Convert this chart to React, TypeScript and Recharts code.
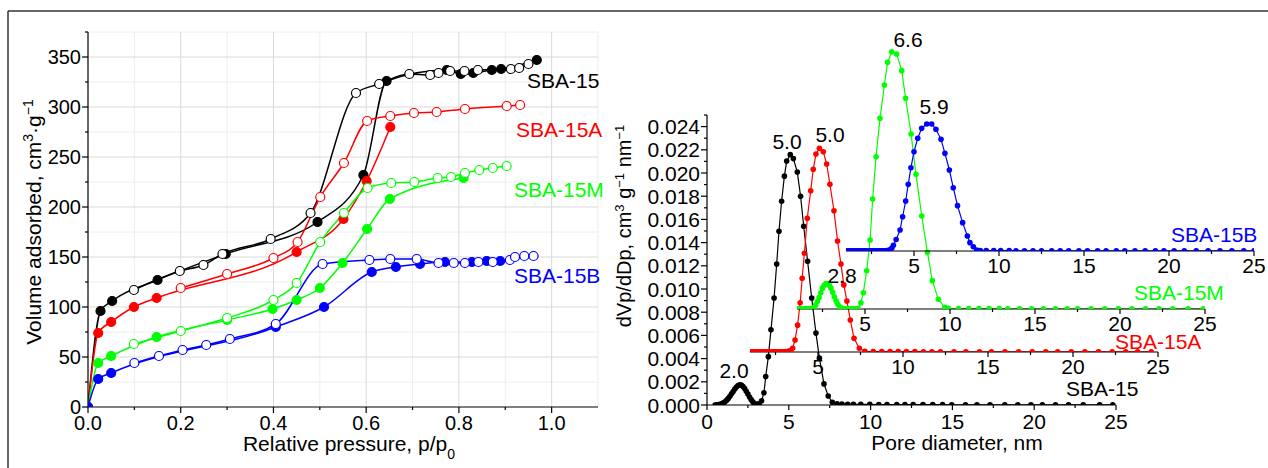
import React from 'react';
import { LineChart, Line, XAxis, YAxis, CartesianGrid } from 'recharts';

const FONT = '"Liberation Sans", Arial, Helvetica, sans-serif';

// ================= Left panel: N2 isotherms =================
const isoXTicks = [0, 0.1, 0.2, 0.3, 0.4, 0.5, 0.6, 0.7, 0.8, 0.9, 1.0];
const isoXMajor = [0, 0.2, 0.4, 0.6, 0.8, 1.0];
const isoYTicks = [0, 25, 50, 75, 100, 125, 150, 175, 200, 225, 250, 275, 300, 325, 350, 375];
const isoYMajor = [0, 50, 100, 150, 200, 250, 300, 350];
const gridMajorX = [0.2, 0.4, 0.6, 0.8, 1.0];
const gridMinorX = [0.1, 0.3, 0.5, 0.7, 0.9, 1.1];
const gridMajorY = [50, 100, 150, 200, 250, 300, 350];
const gridMinorY = [25, 75, 125, 175, 225, 275, 325, 375];

const sba15Ads: [number, number][] = [
  [0, 0], [0.027, 96], [0.052, 106], [0.15, 127], [0.297, 153], [0.495, 185], [0.594, 232],
  [0.644, 326], [0.774, 337], [0.804, 333], [0.831, 334], [0.871, 337], [0.891, 338], [0.968, 347],
];
const sba15Des: [number, number][] = [
  [0.099, 117], [0.198, 136], [0.249, 142], [0.29, 153], [0.394, 168], [0.48, 194], [0.578, 314],
  [0.628, 323], [0.693, 333], [0.738, 332], [0.756, 334], [0.781, 336], [0.812, 336], [0.841, 337],
  [0.912, 338], [0.93, 339], [0.95, 343],
];
const sba15aAds: [number, number][] = [
  [0, 0], [0.022, 74], [0.05, 85], [0.099, 100], [0.148, 109], [0.45, 155], [0.551, 188], [0.601, 226], [0.652, 280],
];
const sba15aDes: [number, number][] = [
  [0.2, 119], [0.3, 133], [0.4, 149], [0.452, 165], [0.501, 210], [0.552, 244], [0.602, 286], [0.652, 291],
  [0.703, 294], [0.752, 295], [0.813, 298], [0.903, 301], [0.932, 302],
];
const sba15mAds: [number, number][] = [
  [0, 0], [0.022, 44], [0.05, 51], [0.148, 70], [0.3, 87], [0.398, 98], [0.45, 107], [0.5, 119],
  [0.549, 144], [0.602, 178], [0.651, 208], [0.81, 229],
];
const sba15mDes: [number, number][] = [
  [0.099, 63], [0.2, 76], [0.3, 89], [0.4, 107], [0.45, 124], [0.501, 165], [0.552, 194], [0.603, 219],
  [0.654, 224], [0.704, 225], [0.754, 229], [0.783, 230], [0.813, 234], [0.844, 237], [0.873, 239], [0.903, 241],
];
const sba15bAds: [number, number][] = [
  [0, 0], [0.022, 28], [0.05, 34], [0.405, 80], [0.509, 100], [0.612, 135], [0.664, 140], [0.716, 143],
  [0.77, 145], [0.828, 145], [0.86, 146], [0.889, 146],
];
const sba15bDes: [number, number][] = [
  [0.1, 44], [0.153, 51], [0.204, 57], [0.255, 62], [0.306, 68], [0.405, 83], [0.506, 143], [0.607, 147],
  [0.652, 148], [0.709, 148], [0.756, 144], [0.789, 144], [0.813, 144], [0.842, 145], [0.873, 145],
  [0.91, 147], [0.921, 150], [0.941, 151], [0.961, 151],
];

const sampleNames = ['SBA-15', 'SBA-15A', 'SBA-15M', 'SBA-15B'];

// ================= Right panel: pore size distributions =================
const psdXTicksMain = [0, 2.5, 5, 7.5, 10, 12.5, 15, 17.5, 20, 22.5, 25];
const psdXTicksOffset = [2.5, 5, 7.5, 10, 12.5, 15, 17.5, 20, 22.5, 25];
const psdXMajor = [0, 5, 10, 15, 20, 25];
const psdYTicks = [
  0, 0.001, 0.002, 0.003, 0.004, 0.005, 0.006, 0.007, 0.008, 0.009, 0.01, 0.011, 0.012, 0.013,
  0.014, 0.015, 0.016, 0.017, 0.018, 0.019, 0.02, 0.021, 0.022, 0.023, 0.024, 0.025,
];
const psdYMajor = [0, 0.002, 0.004, 0.006, 0.008, 0.01, 0.012, 0.014, 0.016, 0.018, 0.02, 0.022, 0.024];

const psdSba15: [number, number][] = [
  [0.5, 0.0], [0.6, 0.00001], [0.7, 0.00003], [0.8, 0.00006], [0.9, 0.00011], [1.0, 0.00018], [1.1, 0.00028],
  [1.2, 0.00041], [1.3, 0.00057], [1.4, 0.00076], [1.5, 0.00096], [1.6, 0.00117], [1.7, 0.00137], [1.8, 0.00155],
  [1.9, 0.00168], [2.0, 0.00174], [2.1, 0.00171], [2.2, 0.0016], [2.3, 0.00142], [2.4, 0.00119], [2.5, 0.00094],
  [2.6, 0.00069], [2.7, 0.00046], [2.8, 0.00027], [2.9, 0.00013], [3.0, 0.00006], [3.1, 0.00005], [3.2, 0.00012],
  [3.34, 0.00037], [3.48, 0.00106], [3.59, 0.00245], [3.75, 0.00417], [3.91, 0.00648], [4.1, 0.00922],
  [4.26, 0.01216], [4.4, 0.01498], [4.56, 0.01757], [4.73, 0.01973], [4.87, 0.02103], [5.09, 0.02158],
  [5.28, 0.02124], [5.52, 0.02008], [5.72, 0.018], [5.91, 0.01541], [6.15, 0.01239], [6.4, 0.00922],
  [6.66, 0.0062], [6.87, 0.00404], [7.15, 0.00182], [7.41, 0.00078], [7.66, 0.00023],
  [7.95, 0.0001], [8.25, 0.00008], [8.6, 0.00007], [8.95, 0.00006], [9.4, 0.00005], [9.95, 0.00005],
  [10.5, 0.00004], [11.0, 0.00004], [11.6, 0.00004], [12.1, 0.00003], [12.6, 0.00003], [13.2, 0.00003],
  [13.8, 0.00003], [14.4, 0.00003], [14.96, 0.00002], [15.8, 0.00002], [16.5, 0.00002], [17.3, 0.00002],
  [18.2, 0.00002], [19.0, 0.00001], [19.8, 0.00001], [20.5, 0.00001], [21.3, 0.00001], [22.1, 0.00001],
  [23.0, 0.00001], [24.0, 0.00001], [24.8, 0.00001],
];
const psdSba15a: [number, number][] = [
  [1.1, 0.00002], [1.2, 0.00002], [1.3, 0.00002], [1.4, 0.00002], [1.5, 0.00002], [1.6, 0.00002], [1.7, 0.00002],
  [1.8, 0.00002], [1.9, 0.00002], [2.0, 0.00002], [2.1, 0.00002], [2.2, 0.00002], [2.3, 0.00002], [2.4, 0.00002],
  [2.5, 0.00002], [2.6, 0.00002], [2.7, 0.00002], [2.8, 0.00002], [2.9, 0.00002], [3.0, 0.00002], [3.1, 0.00003],
  [3.2, 0.00004], [3.3, 0.00008], [3.4, 0.00015],
  [3.51, 0.00032], [3.65, 0.00104], [3.8, 0.00232], [3.95, 0.00426], [4.07, 0.00637], [4.2, 0.00853],
  [4.37, 0.01156], [4.57, 0.01394], [4.72, 0.01579], [4.88, 0.01711], [5.08, 0.0176], [5.31, 0.01731],
  [5.51, 0.01625], [5.7, 0.01449], [5.94, 0.01221], [6.15, 0.0096], [6.35, 0.0076], [6.52, 0.0058],
  [6.7, 0.0044], [6.9, 0.00277], [7.12, 0.00118], [7.43, 0.00032], [7.76, 0.00006],
  [8.25, 0.00004], [8.75, 0.00004], [9.24, 0.00003], [9.72, 0.00003], [10.2, 0.00003], [10.7, 0.00003],
  [11.2, 0.00002], [11.7, 0.00002], [12.2, 0.00002], [13.0, 0.00002], [13.7, 0.00002], [14.5, 0.00002],
  [15.2, 0.00001], [16.0, 0.00001], [16.8, 0.00001], [17.6, 0.00001], [18.4, 0.00001], [19.1, 0.00001],
  [19.9, 0.00001], [20.7, 0.00001], [21.5, 0.00001], [22.3, 0.00001], [23.1, 0.00001], [23.8, 0.00001],
  [24.6, 0.00001],
];
const psdSba15m: [number, number][] = [
  [1.0, 0.00001], [1.1, 0.00001], [1.2, 0.00001], [1.3, 0.00001], [1.4, 0.00001], [1.5, 0.00001], [1.6, 0.00001],
  [1.7, 0.00001], [1.8, 0.00002], [1.9, 0.00005], [2.0, 0.00015], [2.1, 0.00035], [2.2, 0.00065], [2.3, 0.001],
  [2.4, 0.0014], [2.5, 0.0018], [2.6, 0.00205], [2.7, 0.0022], [2.8, 0.0022], [2.9, 0.00205], [3.0, 0.0018],
  [3.1, 0.00145], [3.2, 0.00105], [3.3, 0.0007], [3.4, 0.0004], [3.5, 0.0002], [3.6, 0.00008], [3.7, 0.00003],
  [3.8, 0.00001], [3.9, 0.00001], [4.0, 0.00001], [4.1, 0.00001], [4.2, 0.00001], [4.3, 0.00001], [4.4, 0.00001],
  [4.5, 0.00002], [4.6, 0.00003],
  [4.76, 0.00054], [4.9, 0.00141], [5.1, 0.00331], [5.3, 0.00596], [5.45, 0.00951], [5.65, 0.01316],
  [5.88, 0.01648], [6.14, 0.01936], [6.33, 0.02132], [6.57, 0.02224], [6.86, 0.02204], [7.16, 0.0206],
  [7.39, 0.01821], [7.71, 0.01513], [8.0, 0.01164], [8.34, 0.00804], [8.67, 0.0049], [8.96, 0.00245],
  [9.31, 0.00084], [9.7, 0.00015],
  [9.9, 0.00005], [10.5, 0.00004], [11.1, 0.00004], [11.7, 0.00003], [12.3, 0.00003], [12.9, 0.00003],
  [13.4, 0.00002], [14.1, 0.00002], [14.8, 0.00002], [15.5, 0.00002], [16.2, 0.00001], [16.9, 0.00001],
  [17.5, 0.00001], [18.3, 0.00001], [19.1, 0.00001], [19.9, 0.00001], [20.7, 0.00001], [21.5, 0.00001],
  [22.3, 0.00001], [23.1, 0.00001], [24.0, 0.00001], [24.9, 0.00001],
];
const psdSba15b: [number, number][] = [
  [1.0, 0.00001], [1.1, 0.00001], [1.2, 0.00001], [1.3, 0.00001], [1.4, 0.00001], [1.5, 0.00001], [1.6, 0.00001],
  [1.7, 0.00001], [1.8, 0.00001], [1.9, 0.00001], [2.0, 0.00001], [2.1, 0.00001], [2.2, 0.00001], [2.3, 0.00001],
  [2.4, 0.00001], [2.5, 0.00001], [2.6, 0.00001], [2.7, 0.00001], [2.8, 0.00001], [2.9, 0.00001], [3.0, 0.00001],
  [3.1, 0.00001], [3.2, 0.00001], [3.3, 0.00002], [3.4, 0.00003], [3.5, 0.00005], [3.6, 0.0001], [3.7, 0.00025],
  [3.79, 0.0005], [3.95, 0.001], [4.18, 0.00182], [4.33, 0.00296], [4.51, 0.00432], [4.66, 0.00576],
  [4.82, 0.0072], [5.0, 0.00858], [5.22, 0.00974], [5.45, 0.0106], [5.75, 0.01098], [6.04, 0.01098],
  [6.29, 0.01052], [6.59, 0.00965], [6.82, 0.00844], [7.08, 0.007], [7.31, 0.00547], [7.56, 0.00392],
  [7.86, 0.00245], [8.14, 0.0013], [8.29, 0.00072], [8.49, 0.00037], [8.69, 0.00009],
  [8.9, 0.00004], [9.25, 0.00003], [9.69, 0.00003], [10.1, 0.00003], [10.6, 0.00003], [11.0, 0.00002],
  [11.5, 0.00002], [12.0, 0.00002], [12.5, 0.00002], [13.1, 0.00002], [13.6, 0.00002], [14.1, 0.00001],
  [14.7, 0.00001], [15.2, 0.00001], [15.8, 0.00001], [16.3, 0.00001], [16.9, 0.00001], [17.4, 0.00001],
  [18.0, 0.00001], [18.6, 0.00001], [19.2, 0.00001], [19.7, 0.00001], [20.3, 0.00001], [20.9, 0.00001],
  [21.6, 0.00001], [22.3, 0.00001], [23.0, 0.00001], [23.7, 0.00001], [24.4, 0.00001], [25.0, 0.00001],
];

const peakLabels = ['5.0', '5.0', '6.6', '5.9', '2.0', '2.8'];

// ================= layout / style (not data) =================
const COLORS = ['#000000', '#ff0000', '#00ff00', '#0000ff'];
const PX_PER_UNIT = 11570; // vertical px per cm3 g-1 nm-1, shared by the stacked PSD panels
const PSD_TOP = 30;

const isoPts = (arr: [number, number][]) => arr.map(([p, v]) => ({ p, v }));
const psdPts = (arr: [number, number][]) => arr.map(([d, v]) => ({ d, v }));
const near = (list: number[], v: number) => list.some((m) => Math.abs(m - v) < 1e-9);

function bottomTick(majors: number[], fmt: (v: number) => string, fontSize: number, majorLen: number, minorLen: number, labelDy: number) {
  return (props: any) => {
    const { x, y, payload } = props;
    const v = payload.value;
    const isMajor = near(majors, v);
    return (
      <g>
        <line x1={x} y1={y} x2={x} y2={y + (isMajor ? majorLen : minorLen)} stroke="#000" strokeWidth={1.2} />
        {isMajor && (
          <text x={x} y={y + labelDy} textAnchor="middle" fontSize={fontSize} fontFamily={FONT} fill="#000">
            {fmt(v)}
          </text>
        )}
      </g>
    );
  };
}

function leftTick(majors: number[], fmt: (v: number) => string, fontSize: number, majorLen: number, minorLen: number, gap: number) {
  return (props: any) => {
    const { x, y, payload } = props;
    const v = payload.value;
    const isMajor = near(majors, v);
    return (
      <g>
        <line x1={x} y1={y} x2={x - (isMajor ? majorLen : minorLen)} y2={y} stroke="#000" strokeWidth={1.2} />
        {isMajor && (
          <text x={x - gap} y={y + fontSize * 0.36} textAnchor="end" fontSize={fontSize} fontFamily={FONT} fill="#000">
            {fmt(v)}
          </text>
        )}
      </g>
    );
  };
}

const isoXTick = bottomTick(isoXMajor, (v) => v.toFixed(1), 20, 6, 3, 23);
const isoYTick = leftTick(isoYMajor, (v) => String(v), 20, 6, 3, 7);
const psdXTickMain = bottomTick(psdXMajor, (v) => String(v), 21, 5, 3, 24);
const psdXTickOffset = bottomTick(psdXMajor, (v) => String(v), 21, 5, 3, 22);
const psdYTick = leftTick(psdYMajor, (v) => v.toFixed(3), 21, 6, 3, 7);

const isoSeries = [
  { data: sba15Ads, color: COLORS[0], open: false },
  { data: sba15Des, color: COLORS[0], open: true },
  { data: sba15aAds, color: COLORS[1], open: false },
  { data: sba15aDes, color: COLORS[1], open: true },
  { data: sba15mAds, color: COLORS[2], open: false },
  { data: sba15mDes, color: COLORS[2], open: true },
  { data: sba15bAds, color: COLORS[3], open: false },
  { data: sba15bDes, color: COLORS[3], open: true },
];

// stacked PSD panels: plot left/right x and baseline y
const psdPanels = [
  { data: psdSba15, color: COLORS[0], left: 707, right: 1116, base: 405, top: 115, main: true },
  { data: psdSba15a, color: COLORS[1], left: 750, right: 1158, base: 352, top: PSD_TOP, main: false },
  { data: psdSba15m, color: COLORS[2], left: 797, right: 1205, base: 309, top: PSD_TOP, main: false },
  { data: psdSba15b, color: COLORS[3], left: 846, right: 1254, base: 251, top: PSD_TOP, main: false },
];

const W = 1268;
const H = 468;

function IsoChart() {
  return (
    <LineChart width={620} height={H} margin={{ top: 32, right: 22, bottom: 31, left: 28 }}>
      <CartesianGrid verticalValues={gridMinorX} horizontalValues={gridMinorY} stroke="#eeeeee" strokeWidth={1} />
      <CartesianGrid verticalValues={gridMajorX} horizontalValues={gridMajorY} stroke="#d9d9d9" strokeWidth={1} />
      <XAxis
        type="number"
        dataKey="p"
        domain={[0, 1.1]}
        ticks={isoXTicks}
        interval={0}
        allowDataOverflow
        tickSize={0}
        tickMargin={0}
        tickLine={false}
        tick={isoXTick}
        axisLine={{ stroke: '#000', strokeWidth: 1.2 }}
        height={30}
      />
      <YAxis
        type="number"
        domain={[0, 375]}
        ticks={isoYTicks}
        interval={0}
        allowDataOverflow
        tickSize={0}
        tickMargin={0}
        tickLine={false}
        tick={isoYTick}
        axisLine={{ stroke: '#000', strokeWidth: 1.2 }}
        width={60}
      />
      {isoSeries.map((s, i) => (
        <Line
          key={i}
          data={isoPts(s.data)}
          dataKey="v"
          type="monotone"
          stroke={s.color}
          strokeWidth={1.5}
          isAnimationActive={false}
          dot={{ r: 4.5, fill: s.open ? '#ffffff' : s.color, stroke: s.color, strokeWidth: 1.2 }}
          activeDot={false}
        />
      ))}
    </LineChart>
  );
}

function PsdChart({ panel }: { panel: (typeof psdPanels)[number] }) {
  const xAxisH = 30;
  const yAxisW = 60;
  const yMax = panel.main ? 0.025 : (panel.base - panel.top) / PX_PER_UNIT;
  return (
    <LineChart
      width={W}
      height={H}
      margin={{ top: panel.top, right: W - panel.right, bottom: H - panel.base - xAxisH, left: panel.left - yAxisW }}
    >
      <XAxis
        type="number"
        dataKey="d"
        domain={panel.main ? [0, 25] : [1, 25]}
        ticks={panel.main ? psdXTicksMain : psdXTicksOffset}
        interval={0}
        allowDataOverflow
        tickSize={0}
        tickMargin={0}
        tickLine={false}
        tick={panel.main ? psdXTickMain : psdXTickOffset}
        axisLine={{ stroke: '#000', strokeWidth: 1.2 }}
        height={xAxisH}
      />
      {panel.main ? (
        <YAxis
          type="number"
          domain={[0, yMax]}
          ticks={psdYTicks}
          interval={0}
          allowDataOverflow
          tickSize={0}
          tickMargin={0}
          tickLine={false}
          tick={psdYTick}
          axisLine={{ stroke: '#000', strokeWidth: 1.2 }}
          width={yAxisW}
        />
      ) : (
        <YAxis type="number" domain={[0, yMax]} allowDataOverflow tick={false} tickLine={false} axisLine={false} width={yAxisW} />
      )}
      <Line
        data={psdPts(panel.data)}
        dataKey="v"
        type="linear"
        stroke={panel.color}
        strokeWidth={1.2}
        isAnimationActive={false}
        dot={{ r: 2.8, fill: panel.color, stroke: 'none' }}
        activeDot={false}
      />
    </LineChart>
  );
}

const txt = { fontFamily: FONT, fill: '#000' } as const;

export default function App() {
  return (
    <div
      style={{
        position: 'fixed',
        left: 0,
        top: 0,
        width: W,
        height: H,
        overflow: 'hidden',
        background: '#ffffff',
        fontFamily: FONT,
      }}
    >
      <div style={{ position: 'absolute', left: 0, top: 0 }}>
        <IsoChart />
      </div>
      {psdPanels.map((p, i) => (
        <div key={i} style={{ position: 'absolute', left: 0, top: 0 }}>
          <PsdChart panel={p} />
        </div>
      ))}
      <svg width={W} height={H} style={{ position: 'absolute', left: 0, top: 0, pointerEvents: 'none' }}>
        <line x1={8} y1={11} x2={W} y2={11} stroke="#333" strokeWidth={1.5} />
        <line x1={8} y1={11} x2={8} y2={H} stroke="#333" strokeWidth={1.5} />

        {/* left axis titles */}
        <text {...txt} fontSize={21} textAnchor="middle" transform="rotate(-90 41 222)" x={41} y={222}>
          Volume adsorbed, cm<tspan fontSize={14} baselineShift="super">3</tspan>·g
          <tspan fontSize={14} baselineShift="super">−1</tspan>
        </text>
        <text {...txt} fontSize={21} textAnchor="middle" x={349} y={451}>
          Relative pressure, p/p<tspan fontSize={14} baselineShift="sub">0</tspan>
        </text>

        {/* left sample labels */}
        <text fontFamily={FONT} fontSize={21} fill={COLORS[0]} x={527} y={88}>{sampleNames[0]}</text>
        <text fontFamily={FONT} fontSize={21} fill={COLORS[1]} x={516} y={137}>{sampleNames[1]}</text>
        <text fontFamily={FONT} fontSize={21} fill={COLORS[2]} x={514} y={197}>{sampleNames[2]}</text>
        <text fontFamily={FONT} fontSize={21} fill={COLORS[3]} x={514} y={283}>{sampleNames[3]}</text>

        {/* right axis titles */}
        <text {...txt} fontSize={20} textAnchor="middle" transform="rotate(-90 631 226)" x={631} y={226}>
          dVp/dDp, cm<tspan fontSize={13} baselineShift="super">3</tspan> g
          <tspan fontSize={13} baselineShift="super">−1</tspan> nm
          <tspan fontSize={13} baselineShift="super">−1</tspan>
        </text>
        <text {...txt} fontSize={21} textAnchor="middle" x={957} y={450}>
          Pore diameter, nm
        </text>

        {/* right sample labels */}
        <text fontFamily={FONT} fontSize={21} fill={COLORS[3]} x={1171} y={242}>{sampleNames[3]}</text>
        <text fontFamily={FONT} fontSize={21} fill={COLORS[2]} x={1134} y={300}>{sampleNames[2]}</text>
        <text fontFamily={FONT} fontSize={21} fill={COLORS[1]} x={1115} y={349}>{sampleNames[1]}</text>
        <text fontFamily={FONT} fontSize={21} fill={COLORS[0]} x={1066} y={396}>{sampleNames[0]}</text>

        {/* peak labels */}
        <text {...txt} fontSize={21} textAnchor="middle" x={787} y={149}>{peakLabels[0]}</text>
        <text {...txt} fontSize={21} textAnchor="middle" x={830} y={142}>{peakLabels[1]}</text>
        <text {...txt} fontSize={21} textAnchor="middle" x={908} y={47}>{peakLabels[2]}</text>
        <text {...txt} fontSize={21} textAnchor="middle" x={934} y={114}>{peakLabels[3]}</text>
        <text {...txt} fontSize={21} textAnchor="middle" x={734} y={378}>{peakLabels[4]}</text>
        <text {...txt} fontSize={21} textAnchor="middle" x={842} y={283}>{peakLabels[5]}</text>
      </svg>
    </div>
  );
}
